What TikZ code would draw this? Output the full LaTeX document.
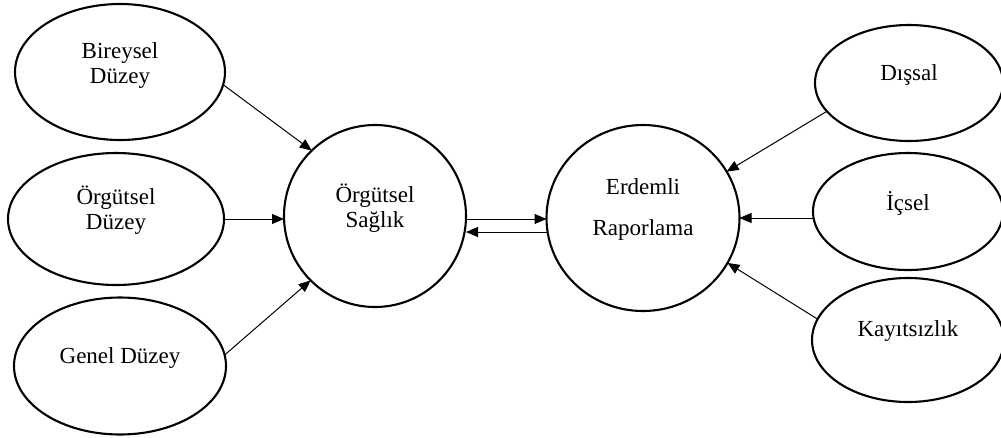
\documentclass[tikz,border=0pt]{standalone}
\usepackage{fontspec}
\setmainfont{Liberation Serif}
\usetikzlibrary{shapes.geometric,arrows.meta}
\begin{document}
\begin{tikzpicture}[x=1pt,y=1pt,
  every node/.style={inner sep=0pt, outer sep=0pt},
  oval/.style={draw, ellipse, line width=2.1pt},
  lbl/.style={font=\fontsize{23}{25}\selectfont, align=center},
  link/.style={line width=1pt, -{Triangle[length=12pt,width=10pt]}}]
\useasboundingbox (0,0) rectangle (1001,-437);

% left group: levels
\node[oval, minimum width=210, minimum height=136,
  label={[lbl,yshift=7]center:Bireysel\\Düzey}] (b) at (120,-72) {};
\node[oval, minimum width=216, minimum height=132,
  label={[lbl,yshift=9]center:Örgütsel\\Düzey}] (od) at (116,-219) {};
\node[oval, minimum width=212, minimum height=137,
  label={[lbl,yshift=8]center:Genel Düzey}] (g) at (120,-366) {};

% the two central concepts
\node[oval, minimum width=182, minimum height=182,
  label={[lbl,yshift=8]center:Örgütsel\\Sağlık}] (s) at (375,-216) {};
\node[oval, minimum width=193, minimum height=186,
  label={[lbl,yshift=9]center:Erdemli\\[16pt]Raporlama}] (e) at (643,-218) {};

% right group: kinds of reporting
\node[oval, minimum width=188, minimum height=116,
  label={[lbl,yshift=8]center:Dışsal}] (d) at (909,-83) {};
\node[oval, minimum width=190, minimum height=117,
  label={[lbl,yshift=8]center:İçsel}] (ic) at (908,-211.5) {};
\node[oval, minimum width=192, minimum height=124,
  label={[lbl,yshift=9]center:Kayıtsızlık}] (k) at (908,-340) {};

% connectors
\draw[link] (b.-7.7) -- (s.134.6);
\draw[link] (od.east) -- (od.east -| s.west);
\draw[link] (g.6.5) -- (s.225.4);

\draw[link] ([yshift=-3]s.east) -- ([yshift=-3]s.east -| e.west);
\draw[link] ([yshift=-14]e.west) -- ([yshift=-14]e.west -| s.east);

\draw[link] (d.199.7) -- (e.29.5);
\draw[link] (e.east -| ic.west) -- (e.east);
\draw[link] (k.167.7) -- (e.-28.5);
\end{tikzpicture}
\end{document}
